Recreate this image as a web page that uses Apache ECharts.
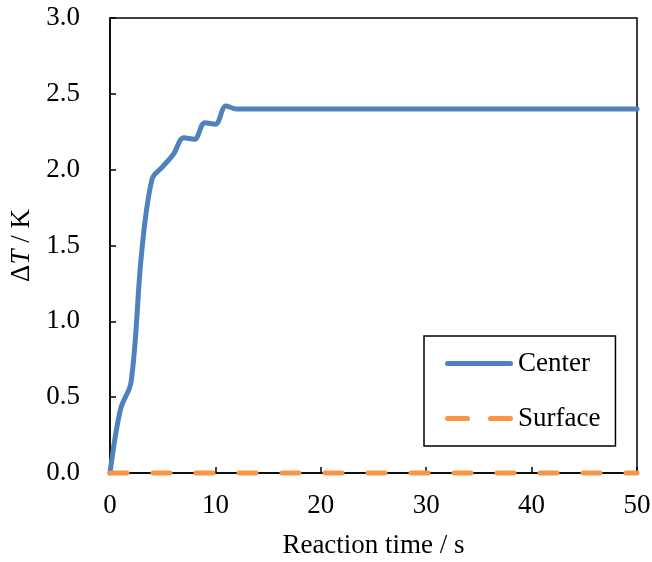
<!DOCTYPE html>
<html>
<head>
<meta charset="utf-8">
<script src="https://cdn.jsdelivr.net/npm/echarts@6/dist/echarts.min.js"></script>
<style>
  html, body { margin: 0; padding: 0; background: #fff; }
  #chart-panel { width: 652px; height: 562px; }
</style>
</head>
<body>
<div id="chart-panel"></div>
<script>
// 反应时间 (s) 与 ΔT (K)
var centerTime = [0, 1, 2, 3, 4, 5, 6, 7, 8, 9, 10, 11, 12, 13, 20, 30, 40, 50];
var centerValue = [0, 0.42, 0.6, 1.45, 1.94, 2.02, 2.1, 2.21, 2.2, 2.31, 2.3, 2.42, 2.4, 2.4, 2.4, 2.4, 2.4, 2.4];
var surfaceTime = [0, 50];
var surfaceValue = [0, 0];
var xTicks = [0, 10, 20, 30, 40, 50];
var yTicks = [0, 0.5, 1, 1.5, 2, 2.5, 3];

function pairs(xs, ys) {
    return xs.map(function (x, i) { return [x, ys[i]]; });
}

var fontFamily = '"Liberation Serif", "Times New Roman", serif';
var fontSize = 27;

// 图例图标：实线 / 虚线 (圆头)
var solidIcon = 'path://M2.5,0H65.5A2.5,2.5,0,0,1,65.5,5H2.5A2.5,2.5,0,0,1,2.5,0Z';
var dashIcon = 'path://M2.5,0H22.5A2.5,2.5,0,0,1,22.5,5H2.5A2.5,2.5,0,0,1,2.5,0Z'
    + 'M45.5,0H65.5A2.5,2.5,0,0,1,65.5,5H45.5A2.5,2.5,0,0,1,45.5,0Z';

var chartOption = {
    backgroundColor: '#fff',
    animation: false,
    textStyle: { fontFamily: fontFamily, color: '#000' },
    grid: {
        show: true,
        left: 110,
        right: 15,
        top: 18,
        bottom: 89,
        outerBoundsMode: 'none',
        containLabel: false,
        borderColor: '#000',
        borderWidth: 1.5
    },
    legend: {
        orient: 'vertical',
        left: 424,
        top: 336,
        padding: [14, 15, 14, 21],
        itemGap: 28,
        itemWidth: 68,
        itemHeight: 5,
        borderColor: '#000',
        borderWidth: 1.5,
        backgroundColor: '#fff',
        textStyle: { fontFamily: fontFamily, fontSize: fontSize, color: '#000' },
        data: [
            { name: 'Center', icon: solidIcon },
            { name: 'Surface', icon: dashIcon }
        ]
    },
    xAxis: {
        type: 'value',
        min: xTicks[0],
        max: xTicks[xTicks.length - 1],
        interval: 10,
        name: 'Reaction time / s',
        nameLocation: 'middle',
        nameGap: 59,
        nameTextStyle: { fontFamily: fontFamily, fontSize: fontSize, color: '#000' },
        axisLine: { lineStyle: { color: '#000', width: 1.5 } },
        axisTick: { inside: true, length: 6, lineStyle: { color: '#000', width: 1.5 } },
        axisLabel: { fontFamily: fontFamily, fontSize: fontSize, color: '#000', margin: 19 },
        splitLine: { show: false }
    },
    yAxis: {
        type: 'value',
        min: yTicks[0],
        max: yTicks[yTicks.length - 1],
        interval: 0.5,
        name: '{a|Δ}{i|T}{a| / K}',
        nameLocation: 'middle',
        nameGap: 71,
        nameTextStyle: {
            rich: {
                a: { fontFamily: fontFamily, fontSize: fontSize, color: '#000' },
                i: { fontFamily: fontFamily, fontSize: fontSize, color: '#000', fontStyle: 'italic' }
            }
        },
        axisLine: { lineStyle: { color: '#000', width: 1.5 } },
        axisTick: { inside: true, length: 6, lineStyle: { color: '#000', width: 1.5 } },
        axisLabel: {
            fontFamily: fontFamily,
            fontSize: fontSize,
            color: '#000',
            margin: 30,
            formatter: function (value) { return value.toFixed(1); }
        },
        splitLine: { show: false }
    },
    series: [{
        name: 'Center',
        type: 'line',
        smooth: 0.35,
        symbol: 'none',
        clip: false,
        z: 3,
        lineStyle: { color: '#4F81BD', width: 5, cap: 'round', join: 'round' },
        itemStyle: { color: '#4F81BD' },
        data: pairs(centerTime, centerValue)
    }, {
        name: 'Surface',
        type: 'line',
        symbol: 'none',
        clip: false,
        z: 4,
        lineStyle: { color: '#F79646', width: 5, type: [17, 26], cap: 'round' },
        itemStyle: { color: '#F79646' },
        data: pairs(surfaceTime, surfaceValue)
    }]
};

var chartPanel = document.getElementById('chart-panel');
var myChart = echarts.init(chartPanel);
myChart.setOption(chartOption);
</script>
</body>
</html>
